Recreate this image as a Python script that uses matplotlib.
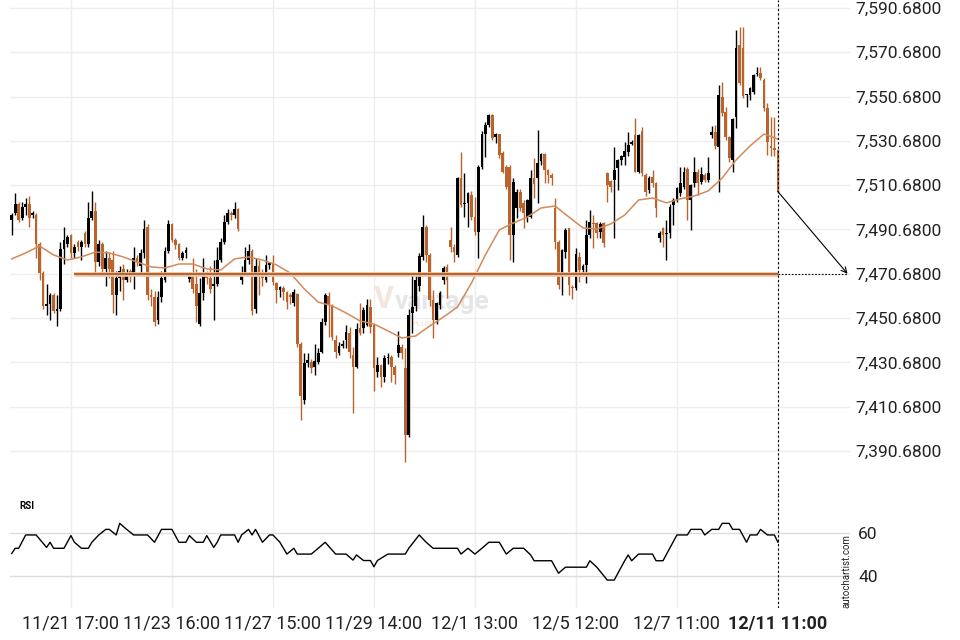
import matplotlib
matplotlib.use("Agg")
import matplotlib.pyplot as plt
from matplotlib.ticker import FuncFormatter
import numpy as np

plt.rcParams["font.family"] = ["Roboto", "DejaVu Sans"]

# candles, oldest first (price)
opens = [7495, 7498, 7502, 7496, 7501, 7502, 7497, 7497, 7484, 7471,
         7456, 7457, 7461, 7454, 7455, 7482, 7484, 7488, 7480, 7485,
         7483, 7489, 7484, 7496, 7499, 7476, 7484, 7473, 7478, 7477,
         7461, 7469, 7473, 7468, 7472, 7471, 7478, 7474, 7480, 7492,
         7461, 7460, 7450, 7460, 7468, 7481, 7493, 7486, 7484, 7478,
         7480, 7468.5, 7471, 7466, 7448, 7462, 7471, 7469, 7465, 7466,
         7477, 7485, 7494, 7498, 7497, 7500, 7468, 7471, 7477, 7481,
         7455, 7474, 7471, 7468, 7474.6, 7475.5, 7466.3, 7463.3, 7464.2, 7462.6,
         7461, 7457.6, 7461.5, 7438.9, 7413.7, 7430.5, 7431, 7428.7, 7431, 7435.5,
         7449, 7460.6, 7456.6, 7440.8, 7434.7, 7438.1, 7440.8, 7444.1, 7434, 7428.7,
         7446, 7446, 7447.5, 7455.8, 7447.5, 7426.5, 7429.5, 7424.2, 7432.5, 7433,
         7428.8, 7434.8, 7437.8, 7428, 7398, 7452.8, 7456, 7465, 7478.4, 7492,
         7479.2, 7458.9, 7449.8, 7456.6, 7467.9, 7473.9, 7485.9, 7482.9, 7479.2, 7513.8,
         7502, 7502.5, 7506.3, 7496.5, 7489.7, 7519, 7534, 7538, 7542.4, 7532.6,
         7533.6, 7525, 7519, 7519, 7488, 7500.2, 7507.8, 7502.5, 7496.5, 7496.5,
         7513.8, 7514, 7521.5, 7524.6, 7517.5, 7515.5, 7500.2, 7485.2, 7469.4, 7480.7,
         7491.2, 7464.9, 7464.1, 7478.4, 7472.4, 7474.7, 7488.2, 7493.5, 7493.5, 7489.7,
         7493.5, 7516, 7512.5, 7513, 7518.3, 7522, 7523.6, 7525.8, 7529.5, 7533.3,
         7516.8, 7535, 7515.3, 7508.6, 7514.6, 7511.6, 7486.7, 7491.2, 7488.7, 7489,
         7501.8, 7504, 7507, 7510, 7518, 7504, 7511.6, 7516.8, 7512.3, 7515.3,
         7513, 7533.4, 7534.9, 7528.1, 7550.7, 7543.9, 7532.6, 7522.1, 7541.6, 7574,
         7572.5, 7551.4, 7551.4, 7552.9, 7560.8, 7561.2, 7558.2, 7545.4, 7528.4, 7527.4,
         7526.6]
highs = [7498, 7507, 7503, 7503, 7505, 7506, 7499, 7498, 7485, 7472,
         7466, 7462, 7462, 7461, 7485, 7492, 7488, 7488.5, 7484, 7486,
         7486, 7490, 7503, 7508, 7503, 7486, 7485, 7481, 7480, 7481,
         7472, 7474, 7475, 7473, 7473, 7483, 7479, 7482, 7495, 7493,
         7464, 7463, 7463, 7472, 7483, 7495, 7493.5, 7487, 7484.5, 7481,
         7483, 7471, 7478, 7473, 7469, 7478, 7472, 7474, 7477, 7483,
         7487, 7497, 7500, 7499, 7503, 7500.5, 7474, 7483, 7484, 7482,
         7478, 7477, 7473, 7479, 7476, 7479, 7467, 7465, 7465, 7463,
         7462, 7463.6, 7462, 7440, 7434.7, 7434.7, 7432, 7439.2, 7437, 7450.5,
         7461.8, 7462.6, 7457, 7443, 7440, 7441, 7447.5, 7446.8, 7437.7, 7448.3,
         7457.3, 7455.8, 7459.1, 7459.5, 7448, 7433.2, 7430, 7434, 7435, 7434,
         7429.5, 7445, 7439, 7437, 7455, 7470.9, 7471, 7480, 7497, 7492.5,
         7480, 7463.4, 7458, 7463, 7474, 7475, 7492, 7484, 7514.5, 7525.8,
         7516, 7507.8, 7508, 7505.5, 7519.8, 7535, 7539.4, 7543, 7543, 7534.1,
         7534, 7526, 7520, 7520, 7514, 7509, 7509, 7504, 7504.5, 7517.5,
         7522.8, 7535.6, 7525, 7525, 7518, 7516, 7504.8, 7486, 7482, 7491.2,
         7491.5, 7465.5, 7482.2, 7480.7, 7475, 7494.9, 7499.5, 7497, 7494, 7494.2,
         7494, 7516.8, 7513, 7528, 7522.5, 7524.3, 7530.3, 7534.8, 7531, 7540.9,
         7534, 7537, 7516, 7515, 7517.5, 7512, 7490, 7492, 7495, 7502,
         7505, 7510, 7519, 7519, 7519, 7511, 7523.6, 7518, 7519, 7516,
         7523.6, 7537.2, 7537.9, 7556, 7557.5, 7546.2, 7533, 7541, 7580.8, 7582,
         7582.3, 7552, 7555, 7561, 7564.2, 7564.2, 7559, 7547.7, 7541.6, 7541.6,
         7527]
lows = [7488, 7497, 7494, 7495, 7497, 7492, 7496, 7478, 7468, 7455,
        7452, 7450, 7453, 7447, 7454, 7475, 7483, 7478, 7478, 7481,
        7477, 7483, 7483, 7495, 7470, 7474, 7471, 7465, 7469, 7453,
        7452, 7463, 7459, 7467, 7467, 7464, 7474, 7470, 7478, 7459,
        7456, 7447, 7448, 7458, 7467, 7480, 7485, 7482, 7477, 7477,
        7478, 7467, 7462, 7449, 7447, 7459, 7466, 7462, 7450, 7465,
        7476, 7484, 7493, 7495, 7496, 7490, 7466, 7470, 7475, 7452,
        7453, 7461, 7465, 7467, 7473, 7465.6, 7457.3, 7460, 7459, 7455,
        7457, 7456, 7437.7, 7404.6, 7411.9, 7428.7, 7425.7, 7425, 7430, 7434.7,
        7447.5, 7442.3, 7441, 7432.5, 7434, 7437, 7437, 7432.5, 7407.6, 7428,
        7443, 7444, 7447, 7443.8, 7417.6, 7424.2, 7419.7, 7422, 7430, 7422,
        7421, 7433, 7432, 7385.6, 7397, 7443.8, 7454, 7463, 7477, 7476,
        7456, 7441.5, 7448, 7455, 7466, 7459.6, 7480.7, 7476, 7478.4, 7501,
        7496.5, 7492, 7495, 7488, 7477.6, 7518, 7523.6, 7537, 7531, 7529.6,
        7523, 7516, 7509, 7477, 7476, 7496, 7499, 7491.2, 7494, 7495.7,
        7504.8, 7502.5, 7520, 7511.5, 7511.5, 7510.8, 7482, 7464, 7461.1, 7478,
        7461.1, 7459.3, 7463.4, 7467.1, 7471, 7466.4, 7487, 7482.2, 7486.7, 7487,
        7483, 7503.2, 7507.8, 7486.7, 7508.5, 7520, 7520, 7524, 7529, 7516.8,
        7516, 7515, 7506, 7507, 7510, 7496.5, 7485, 7483, 7476.9, 7487,
        7492.7, 7503, 7506, 7509, 7495, 7490.5, 7510, 7506.3, 7511, 7512,
        7512, 7532, 7527, 7507.8, 7542, 7531, 7521.3, 7516.8, 7536.4, 7556,
        7550, 7546.2, 7549, 7552, 7560, 7558, 7544, 7524.4, 7524, 7524,
        7507]
closes = [7497, 7502, 7495, 7501, 7502, 7496, 7498, 7484, 7471, 7456,
          7457, 7461, 7454, 7455, 7482, 7486, 7487.5, 7480, 7483, 7483,
          7485, 7484, 7496, 7499, 7476, 7484, 7473, 7478, 7473, 7461,
          7469, 7472, 7468, 7471, 7470, 7478, 7476, 7480, 7491, 7461,
          7460, 7449, 7460, 7469, 7481, 7493, 7486, 7483.5, 7478, 7480,
          7481.5, 7470, 7464, 7456, 7462, 7471, 7469, 7464, 7466, 7477,
          7485, 7494, 7498, 7497, 7500, 7491, 7471, 7477, 7481, 7454,
          7474, 7470, 7469, 7474.6, 7475.5, 7467.1, 7463.3, 7464.5, 7462.6, 7458,
          7460, 7462.6, 7439.2, 7415.5, 7430.2, 7431.7, 7428.3, 7431.3, 7434.7, 7449,
          7461.1, 7456.6, 7442.3, 7435.5, 7438.1, 7439.2, 7444.5, 7435.5, 7428.7, 7445.6,
          7443.8, 7454.3, 7456.6, 7446.8, 7428, 7429.5, 7424.2, 7432.5, 7433, 7428.8,
          7425, 7438.5, 7434.8, 7398, 7452, 7455.9, 7468, 7478.7, 7492, 7479.2,
          7458.9, 7449.8, 7457.4, 7461.9, 7473.2, 7467.9, 7482.9, 7480.7, 7513.8, 7501.8,
          7502.5, 7507, 7496.5, 7489.7, 7519, 7534, 7538, 7542.4, 7531.8, 7533.6,
          7524.3, 7516.8, 7510, 7488, 7512, 7507.8, 7500.2, 7498, 7504, 7513.8,
          7511, 7520.6, 7524.6, 7517.5, 7515.3, 7514, 7485.2, 7465.6, 7481.4, 7490.5,
          7465.6, 7464.1, 7479.6, 7472.4, 7474.2, 7488.2, 7494.2, 7493, 7489, 7493,
          7484.4, 7510.8, 7510, 7517.5, 7522, 7524, 7526.1, 7528.8, 7530.3, 7516.8,
          7533.3, 7516, 7507.8, 7513.8, 7511.6, 7500.3, 7489, 7488.2, 7489.2, 7501,
          7504, 7509.3, 7511.6, 7516.8, 7504, 7510.8, 7516.8, 7511.6, 7515.8, 7513.1,
          7516.1, 7534.9, 7528.4, 7551.4, 7543.2, 7532.6, 7522.8, 7540.6, 7572.5, 7556.7,
          7551, 7551.8, 7554.4, 7560.5, 7561.5, 7559, 7545.4, 7530.4, 7527.4, 7526.5,
          7507.8]

# moving average, read every 4th candle
ma_step = 4
ma_values = [7477.4, 7480.1, 7483.2, 7479.2, 7476.9, 7478.3, 7480.5, 7480.1, 7478.3, 7476.0,
             7473.8, 7473.3, 7475.1, 7475.1, 7472.9, 7472.4, 7477.4, 7478.3, 7476.9, 7474.7,
             7471.0, 7463.8, 7457.9, 7456.2, 7453.0, 7449.4, 7448.0, 7444.9, 7441.7, 7442.6,
             7447.1, 7451.2, 7455.7, 7466.5, 7479.2, 7490.5, 7493.6, 7496.3, 7500.4, 7501.3,
             7496.3, 7491.4, 7490.9, 7493.2, 7497.2, 7504.0, 7504.9, 7502.7, 7504.5, 7505.8,
             7508.1, 7513.9, 7522.1, 7528.4, 7533.8, 7531.5]

# RSI turning points (candle number, value)
rsi_idx = [0, 1, 2, 4, 7, 10, 11, 12, 15, 17,
           18, 20, 22, 23, 25, 27, 28, 30, 31, 33,
           35, 39, 41, 43, 46, 48, 50, 51, 53, 55,
           56, 58, 59, 60, 64, 65, 66, 68, 69, 70,
           72, 74, 75, 77, 79, 81, 82, 86, 88, 90,
           93, 96, 98, 99, 101, 103, 104, 105, 108, 113,
           114, 117, 119, 121, 128, 129, 131, 133, 135, 137,
           140, 142, 144, 147, 149, 150, 155, 157, 159, 165,
           166, 168, 171, 173, 176, 177, 178, 180, 184, 185,
           187, 191, 194, 195, 198, 199, 201, 203, 204, 206,
           207, 209, 211, 212, 214, 215, 217, 219, 220]
rsi_val = [50.5, 52.9, 52.9, 59.1, 59.1, 53.3, 55.7, 52.9, 52.9, 58.8,
           55.7, 52.9, 52.9, 55.7, 59.1, 61.7, 61.7, 59.1, 64.5, 61.7,
           59.1, 59.1, 55.7, 61.7, 61.7, 55.7, 55.7, 58.8, 55.7, 55.7,
           58.8, 53.3, 55.7, 59.1, 59.1, 55.7, 59.1, 61.7, 59.1, 61.7,
           55.7, 59.1, 59.1, 55.7, 50.2, 52.9, 50.2, 50.2, 52.9, 55.7,
           50.2, 50.2, 47.4, 49.8, 47.2, 47.2, 44.3, 47.2, 50.2, 50.2,
           52.9, 59.1, 55.7, 52.9, 52.9, 50.2, 52.9, 50.2, 52.9, 55.7,
           55.7, 50.2, 52.9, 52.9, 49.8, 47.1, 47.1, 41.3, 44.1, 44.1,
           47.1, 44.1, 38.1, 38.1, 47.1, 49.8, 47.1, 50.2, 50.2, 47.1,
           47.1, 59.1, 59.1, 61.7, 61.7, 59.1, 61.7, 61.7, 64.5, 64.5,
           61.7, 61.7, 55.7, 59.1, 59.1, 61.7, 59.1, 59.1, 55.7]

tick_idx = [17, 46, 75, 104, 133, 162, 191, 220]
tick_labels = ["11/21 17:00", "11/23 16:00", "11/27 15:00", "11/29 14:00",
               "12/1 13:00", "12/5 12:00", "12/7 11:00", "12/11 11:00"]
price_ticks = [7390.68, 7410.68, 7430.68, 7450.68, 7470.68, 7490.68,
               7510.68, 7530.68, 7550.68, 7570.68, 7590.68]
rsi_ticks = [40, 60]

level = 7470.68
level_from = 18
horizon = 20  # candles projected past the last bar

UP, DOWN = "#000000", "#b9632d"
GRID = "#eeeeee"

fig = plt.figure(figsize=(9.6, 6.4), dpi=100)
ax = fig.add_axes([10 / 960, 1 - 495 / 640, 840 / 960, 495 / 640])
rax = fig.add_axes([10 / 960, 1 - 608 / 640, 840 / 960, 113 / 640], sharex=ax)

o, h, l, c = map(np.asarray, (opens, highs, lows, closes))
x = np.arange(len(c))
last = x[-1]
col = np.where(c >= o, UP, DOWN)

ax.vlines(x, l, h, colors=col, lw=1.0, zorder=2)
body = np.maximum(np.abs(c - o), 0.5)
ax.bar(x, body, bottom=np.minimum(o, c), width=0.78, color=col, lw=0, zorder=3)

ax.plot(np.arange(len(ma_values)) * ma_step, ma_values, color="#d38a5a", lw=1.1, zorder=4)

ax.hlines(level, level_from, last, color="#ecc8ae", lw=3.4, zorder=5)
ax.hlines(level, level_from, last, color=DOWN, lw=1.5, zorder=6)
ax.hlines(level, last, last + horizon, color="black", lw=0.8, linestyles=(0, (1.5, 1.5)), zorder=6)
ax.annotate("", xy=(last + horizon, level), xytext=(last, c[-1]),
            arrowprops=dict(arrowstyle="->", color="black", lw=0.8,
                            shrinkA=0, shrinkB=0, mutation_scale=10), zorder=7)

# faint broker watermark
ax.text(0.445, 0.395, "V", transform=ax.transAxes, fontsize=22,
        fontweight="bold", color="#f4e6dc", ha="center", va="center", zorder=1)
ax.text(0.515, 0.39, "vantage", transform=ax.transAxes, fontsize=19,
        fontweight="bold", color="#e4e6e8", ha="center", va="center", zorder=1)
ax.text(0.49, 0.345, "PLUS", transform=ax.transAxes, fontsize=6,
        color="#f2ddd0", ha="center", va="center", zorder=1)

ax.set_ylim(7370.8, 7594.3)
ax.set_xlim(-0.5, 240.7)
ax.set_yticks(price_ticks)
ax.yaxis.set_major_formatter(FuncFormatter(lambda v, _: f"{v:,.4f}"))
ax.yaxis.tick_right()
ax.tick_params(axis="y", length=0, pad=4, labelsize=12.5, labelcolor="#222222")
ax.set_xticks(tick_idx)
ax.tick_params(axis="x", length=0, labelbottom=False)
ax.grid(True, color=GRID, lw=1)
ax.set_axisbelow(True)

rax.plot(rsi_idx, rsi_val, color="black", lw=1.0, zorder=3)
rax.set_ylim(25.1, 77.7)
rax.set_yticks(rsi_ticks)
rax.yaxis.tick_right()
rax.tick_params(axis="y", length=0, pad=6, labelsize=12.5, labelcolor="#222222")
rax.grid(True, axis="x", color=GRID, lw=1)
rax.grid(True, axis="y", color="#dcdcdc", lw=1)
rax.set_axisbelow(True)
rax.set_xticks(tick_idx, tick_labels)
rax.tick_params(axis="x", length=0, pad=5, labelsize=13, labelcolor="#222222")
rax.get_xticklabels()[-1].set_fontweight("bold")
rax.text(0.011, 0.9, "RSI", transform=rax.transAxes, fontsize=7,
         fontweight="bold", va="center")

for a in (ax, rax):
    a.axvline(last, color="black", lw=0.8, ls=(0, (2, 2)), zorder=8)
    for s in a.spines.values():
        s.set_visible(False)

fig.text(846 / 960, 1 - 608 / 640, "autochartist.com", rotation=90, fontsize=7,
         ha="center", va="bottom", color="#222222")

fig.savefig("out.png", dpi=100)
